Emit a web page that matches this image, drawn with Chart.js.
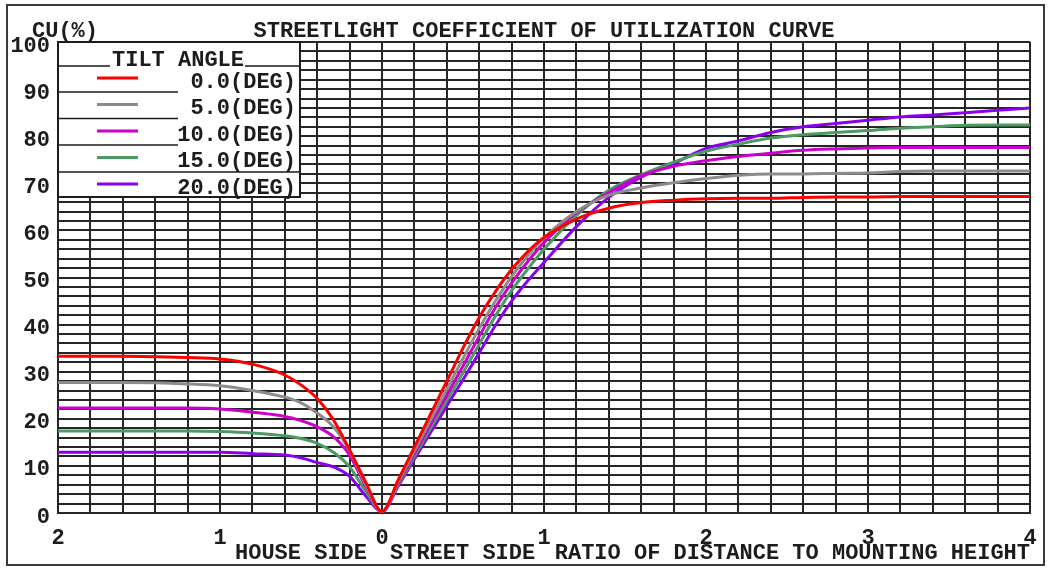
<!DOCTYPE html>
<html>
<head>
<meta charset="utf-8">
<title>Streetlight CU curve</title>
<script src="https://cdn.jsdelivr.net/npm/chart.js@4.4.0/dist/chart.umd.min.js"></script>
<style>
  html, body { margin: 0; padding: 0; background: #fff; }
  #wrap { width: 1050px; height: 568px; }
</style>
</head>
<body>
<div id="wrap"><canvas id="cu-chart" width="1050" height="568"></canvas></div>
<script>
// Ratio of distance to mounting height (negative = house side)
const distances = [-2, -1.6, -1.2, -1.0, -0.8, -0.6, -0.5, -0.4, -0.3, -0.2, -0.1, 0,
  0.1, 0.2, 0.3, 0.4, 0.5, 0.6, 0.7, 0.8, 0.9, 1.0,
  1.2, 1.4, 1.6, 1.8, 2.0, 2.2, 2.4, 2.6, 2.8, 3.0, 3.2, 3.4, 3.6, 3.8, 4.0];

// CU (%) per tilt angle
const cu00 = [33.3, 33.3, 33.0, 32.7, 31.6, 29.3, 27.2, 24.3, 19.8, 13.4, 6.5, 0.3,
  7.0, 14.0, 21.0, 28.0, 35.0, 41.5, 47.0, 51.7, 55.5, 58.5,
  62.4, 64.7, 65.9, 66.4, 66.7, 66.8, 66.8, 67.0, 67.1, 67.1, 67.2, 67.2, 67.2, 67.2, 67.2];
const cu05 = [27.7, 27.7, 27.4, 27.0, 26.0, 24.6, 23.4, 21.2, 18.3, 13.2, 6.0, 0.3,
  6.6, 13.2, 19.8, 26.3, 32.8, 39.2, 45.0, 50.2, 54.6, 58.4,
  64.0, 67.5, 69.0, 70.1, 71.0, 71.7, 72.0, 72.0, 72.1, 72.2, 72.5, 72.6, 72.6, 72.6, 72.6];
const cu10 = [22.3, 22.3, 22.3, 22.1, 21.4, 20.5, 19.6, 18.3, 16.2, 12.3, 5.6, 0.3,
  6.3, 12.6, 18.9, 25.0, 31.2, 37.5, 43.6, 48.8, 53.4, 57.4,
  63.8, 68.0, 71.6, 73.6, 74.8, 75.7, 76.4, 77.0, 77.3, 77.5, 77.6, 77.6, 77.6, 77.6, 77.6];
const cu15 = [17.4, 17.4, 17.4, 17.3, 17.0, 16.4, 15.8, 14.8, 12.9, 9.8, 4.6, 0.3,
  6.0, 12.0, 18.0, 23.9, 29.8, 35.8, 41.8, 47.2, 51.8, 56.0,
  63.2, 68.5, 71.8, 74.5, 76.8, 78.3, 79.6, 80.3, 80.8, 81.2, 81.7, 82.0, 82.3, 82.4, 82.4];
const cu20 = [12.9, 12.9, 12.9, 12.9, 12.6, 12.3, 11.7, 10.7, 9.8, 7.8, 3.6, 0.3,
  5.7, 11.4, 17.1, 22.7, 28.3, 34.0, 39.8, 45.0, 49.3, 53.2,
  60.8, 67.0, 71.3, 74.2, 77.4, 79.0, 80.8, 82.0, 82.7, 83.4, 84.1, 84.5, 85.0, 85.5, 86.0];

const tiltAngles = ['0.0', '5.0', '10.0', '15.0', '20.0'];
const seriesValues = [cu00, cu05, cu10, cu15, cu20];
const seriesColors = ['#ff0000', '#8c8c8c', '#cc00cc', '#4a9a62', '#8800ee'];

const chartTitle = 'STREETLIGHT COEFFICIENT OF UTILIZATION CURVE';
const FONT_FAMILY = "'Liberation Mono', 'DejaVu Sans Mono', monospace";
const FONT = 'bold 22px ' + FONT_FAMILY;
const INK = '#1c1c1c';
const GRID = '#262626';

function drawLegend(ctx, area) {
    const left = area.left, top = area.top;
    const right = left + 242, bottom = top + 155;

    ctx.fillStyle = '#fff';
    ctx.fillRect(left, top, right - left, bottom - top);
    ctx.strokeStyle = INK;
    ctx.lineWidth = 2;
    ctx.strokeRect(left, top, right - left, bottom - top);

    ctx.fillStyle = INK;
    ctx.textAlign = 'center';
    ctx.fillText('TILT ANGLE', left + 120, top + 18);

    ctx.lineWidth = 1.5;
    ctx.beginPath();
    ctx.moveTo(left, top + 24); ctx.lineTo(left + 52, top + 24);
    ctx.moveTo(left + 187, top + 24); ctx.lineTo(right, top + 24);
    for (let i = 0; i < 3; i++) {
        const y = top + 50 + 26.5 * i;
        ctx.moveTo(left, y); ctx.lineTo(left + 120, y);
    }
    ctx.moveTo(left, top + 130); ctx.lineTo(right, top + 130);
    ctx.stroke();

    tiltAngles.forEach((a, i) => {
        const y = top + 36 + 26.5 * i;
        ctx.strokeStyle = seriesColors[i];
        ctx.lineWidth = 3;
        ctx.beginPath();
        ctx.moveTo(left + 39, y);
        ctx.lineTo(left + 80, y);
        ctx.stroke();
        ctx.fillStyle = INK;
        ctx.textAlign = 'right';
        ctx.fillText(`${a}(DEG)`, right - 4, y + 4);
    });
}

const decorations = {
    id: 'decorations',
    afterDraw(chart) {
        const { ctx, chartArea } = chart;
        ctx.save();

        // outer frame
        ctx.strokeStyle = '#3a3a3a';
        ctx.lineWidth = 2;
        ctx.strokeRect(7, 5, 1037, 560);

        ctx.font = FONT;
        ctx.fillStyle = INK;
        ctx.textBaseline = 'middle';
        ctx.textAlign = 'left';
        ctx.fillText('CU(%)', 32, 31);
        ctx.textAlign = 'center';
        ctx.fillText(chartTitle, (chartArea.left + chartArea.right) / 2, 31);

        // axis captions
        ctx.textAlign = 'left';
        ctx.fillText('HOUSE SIDE', 235, 553);
        ctx.fillText('STREET SIDE', 390, 553);
        ctx.textAlign = 'right';
        ctx.fillText('RATIO OF DISTANCE TO MOUNTING HEIGHT', chartArea.right, 553);

        drawLegend(ctx, chartArea);
        ctx.restore();
    }
};

const tickFont = { family: FONT_FAMILY, size: 22, weight: 'bold' };

new Chart(document.getElementById('cu-chart'), {
    type: 'line',
    data: {
        datasets: seriesValues.map((vals, i) => ({
            label: tiltAngles[i] + '(DEG)',
            data: distances.map((d, j) => ({ x: d, y: vals[j] })),
            borderColor: seriesColors[i],
            borderWidth: 3,
            pointRadius: 0,
            cubicInterpolationMode: 'monotone',
            fill: false
        }))
    },
    options: {
        responsive: false,
        animation: false,
        devicePixelRatio: 1,
        layout: { padding: { top: 42, right: 20, left: 0, bottom: 0 } },
        plugins: {
            legend: { display: false },
            tooltip: { enabled: false }
        },
        scales: {
            x: {
                type: 'linear',
                min: -2,
                max: 4,
                afterFit(scale) { scale.height = 55; },
                grid: { color: GRID, lineWidth: 2, drawTicks: false },
                border: { display: true, color: GRID, width: 2 },
                ticks: {
                    stepSize: 0.2,
                    maxTicksLimit: 100,
                    autoSkip: false,
                    maxRotation: 0,
                    padding: 12,
                    color: INK,
                    font: tickFont,
                    callback(v) {
                        const r = Math.round(v);
                        return Math.abs(v - r) < 1e-6 ? String(Math.abs(r)) : '';
                    }
                }
            },
            y: {
                min: 0,
                max: 100,
                afterFit(scale) { scale.width = 58; },
                grid: { color: GRID, lineWidth: 2, drawTicks: false },
                border: { display: true, color: GRID, width: 2 },
                ticks: {
                    stepSize: 2,
                    maxTicksLimit: 100,
                    autoSkip: false,
                    padding: 8,
                    labelOffset: 4,
                    color: INK,
                    font: tickFont,
                    callback(v) {
                        return v % 10 === 0 ? String(v) : '';
                    }
                }
            }
        }
    },
    plugins: [decorations]
});
</script>
</body>
</html>
